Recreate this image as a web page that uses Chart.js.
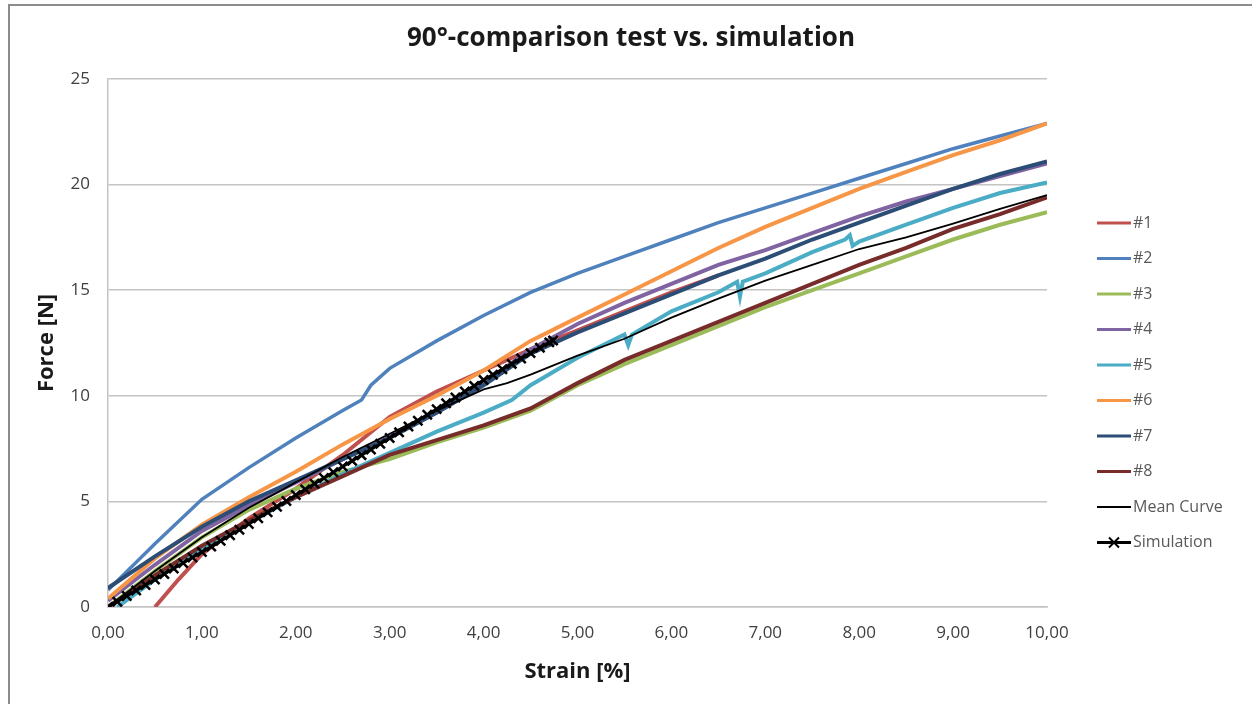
<!DOCTYPE html>
<html>
<head>
<meta charset="utf-8">
<title>90°-comparison test vs. simulation</title>
<script src="https://cdn.jsdelivr.net/npm/chart.js@4.4.1/dist/chart.umd.min.js"></script>
<style>
  html, body { margin: 0; padding: 0; background: #fff; width: 1252px; height: 704px; overflow: hidden; }
  #frame { position: absolute; left: 8px; top: 4px; width: 1242px; height: 698px;
           border-left: 2px solid #8c8c8c; border-top: 2px solid #8c8c8c; }
  canvas { display: block; }
</style>
</head>
<body>
<div id="frame"><canvas id="chart" width="1242" height="698"></canvas></div>
<script>
// ---- measured specimens: strain [%] and force [N] ----
const strainGrid = [0, 0.5, 1, 1.5, 2, 2.5, 3, 3.5, 4, 4.5, 5, 5.5, 6, 6.5, 7, 7.5, 8, 8.5, 9, 9.5, 10];

const strain1 = [0.5, 0.75, 1, 1.5, 2, 2.5, 3, 3.5, 4, 4.5, 5, 5.5, 6, 6.5];
const force1  = [0, 1.3, 2.5, 4.2, 5.6, 7.2, 9.0, 10.2, 11.2, 12.2, 13.1, 14.0, 14.9, 15.7];

const strain2 = [0, 0.5, 1, 1.5, 2, 2.5, 2.7, 2.8, 3, 3.5, 4, 4.5, 5, 5.5, 6, 6.5, 7, 7.5, 8, 8.5, 9, 9.5, 10];
const force2  = [0.8, 3.0, 5.1, 6.6, 8.0, 9.3, 9.8, 10.5, 11.3, 12.6, 13.8, 14.9, 15.8, 16.6, 17.4, 18.2, 18.9, 19.6, 20.3, 21.0, 21.7, 22.3, 22.9];

const force3 = [0, 1.7, 3.3, 4.6, 5.6, 6.4, 7.0, 7.8, 8.5, 9.3, 10.5, 11.5, 12.4, 13.3, 14.2, 15.0, 15.8, 16.6, 17.4, 18.1, 18.7];

const force4 = [0.3, 2.0, 3.6, 4.8, 5.9, 7.0, 8.1, 9.3, 10.6, 12.2, 13.4, 14.4, 15.3, 16.2, 16.9, 17.7, 18.5, 19.2, 19.8, 20.4, 21.0];

const strain5 = [0.1, 0.5, 1, 1.5, 2, 2.5, 3, 3.5, 4, 4.3, 4.5, 5, 5.5, 5.54, 5.58, 6, 6.5, 6.7, 6.73, 6.76, 7, 7.5, 7.85, 7.9, 7.93, 8, 8.5, 9, 9.5, 10];
const force5  = [0, 1.3, 2.8, 4.0, 5.2, 6.3, 7.3, 8.3, 9.2, 9.8, 10.5, 11.8, 12.9, 12.4, 12.9, 14.0, 14.9, 15.4, 14.7, 15.4, 15.8, 16.8, 17.4, 17.6, 17.1, 17.3, 18.1, 18.9, 19.6, 20.1];

const force6 = [0.4, 2.3, 3.9, 5.2, 6.4, 7.7, 8.9, 10.0, 11.2, 12.6, 13.7, 14.8, 15.9, 17.0, 18.0, 18.9, 19.8, 20.6, 21.4, 22.1, 22.9];

const force7 = [0.9, 2.4, 3.8, 5.0, 6.0, 7.0, 8.0, 9.2, 10.5, 12.0, 13.0, 13.9, 14.8, 15.7, 16.5, 17.4, 18.2, 19.0, 19.8, 20.5, 21.1];

const force8 = [0, 1.5, 2.9, 4.1, 5.2, 6.2, 7.2, 7.9, 8.6, 9.4, 10.6, 11.7, 12.6, 13.5, 14.4, 15.3, 16.2, 17.0, 17.9, 18.6, 19.4];

const strainMean = [0, 0.5, 1, 1.5, 2, 2.5, 3, 3.5, 4, 4.25, 4.5, 5, 5.5, 6, 6.5, 7, 7.5, 8, 8.5, 9, 9.5, 10];
const forceMean  = [0, 1.7, 3.3, 4.7, 5.9, 7.1, 8.2, 9.3, 10.3, 10.6, 11.0, 11.9, 12.7, 13.7, 14.6, 15.45, 16.2, 16.95, 17.5, 18.15, 18.85, 19.5];

// ---- FE simulation ----
const simStrain = [0, 0.1, 0.2, 0.3, 0.4, 0.5, 0.6, 0.7, 0.8, 0.9, 1.0, 1.1, 1.2, 1.3, 1.4, 1.5, 1.6, 1.7, 1.8, 1.9,
                   2.0, 2.1, 2.2, 2.3, 2.4, 2.5, 2.6, 2.7, 2.8, 2.9, 3.0, 3.1, 3.2, 3.3, 3.4, 3.5, 3.6, 3.7, 3.8, 3.9,
                   4.0, 4.1, 4.2, 4.3, 4.4, 4.5, 4.6, 4.7, 4.74];
const simForce  = [0, 0.25, 0.52, 0.78, 1.04, 1.30, 1.56, 1.82, 2.08, 2.34, 2.60, 2.86, 3.13, 3.40, 3.66, 3.93, 4.20, 4.48, 4.75, 5.02,
                   5.30, 5.57, 5.84, 6.11, 6.38, 6.65, 6.92, 7.19, 7.46, 7.73, 8.00, 8.27, 8.55, 8.82, 9.10, 9.37, 9.65, 9.92, 10.20, 10.47,
                   10.75, 11.00, 11.26, 11.51, 11.77, 12.02, 12.28, 12.53, 12.62];

// ---- axis ticks ----
const strainTicks = [0, 1, 2, 3, 4, 5, 6, 7, 8, 9, 10];
const forceTicks  = [0, 5, 10, 15, 20, 25];

const seriesNames = ['#1', '#2', '#3', '#4', '#5', '#6', '#7', '#8', 'Mean Curve', 'Simulation'];
const chartTitle = '90°-comparison test vs. simulation';

const toPoints = (xs, ys) => xs.map((x, i) => ({ x: x, y: ys[i] }));
const comma2 = v => Number(v).toFixed(2).replace('.', ',');

const seriesData = [
  toPoints(strain1, force1),
  toPoints(strain2, force2),
  toPoints(strainGrid, force3),
  toPoints(strainGrid, force4),
  toPoints(strain5, force5),
  toPoints(strainGrid, force6),
  toPoints(strainGrid, force7),
  toPoints(strainGrid, force8),
  toPoints(strainMean, forceMean),
  toPoints(simStrain, simForce)
];

const lineColors = ['#C0504D', '#4F81BD', '#9BBB59', '#8064A2', '#4BACC6', '#F79646', '#2C4D75', '#772C2A', '#000000', '#000000'];
const lineWidths = [4, 3.5, 4, 4, 4, 4, 4, 4, 1.8, 3];

const datasets = seriesNames.map((name, i) => ({
  label: name,
  data: seriesData[i],
  borderColor: lineColors[i],
  backgroundColor: lineColors[i],
  borderWidth: lineWidths[i],
  pointRadius: name === 'Simulation' ? 6.5 : 0,
  pointStyle: name === 'Simulation' ? 'crossRot' : 'circle',
  pointBorderWidth: 2.5,
  pointBorderColor: lineColors[i],
  tension: 0,
  fill: false,
  // later series are painted over earlier ones
  order: seriesNames.length - 1 - i
}));

// heading centred across the whole canvas (legend column included)
const headline = {
  id: 'headline',
  afterDraw(chart) {
    const { ctx, width } = chart;
    ctx.save();
    ctx.font = 'bold 26px "Open Sans"';
    ctx.fillStyle = '#1a1a1a';
    ctx.textAlign = 'center';
    ctx.textBaseline = 'middle';
    ctx.fillText(chartTitle, width / 2, 33);
    ctx.restore();
  }
};

// legend drawn at the right of the plot, one row per series
const sideLegend = {
  id: 'sideLegend',
  afterDraw(chart) {
    const { ctx, chartArea } = chart;
    const x0 = chartArea.right + 50, len = 34;
    const y0 = chartArea.top + 144, step = 35.5;
    ctx.save();
    ctx.font = '16px "Open Sans"';
    ctx.textBaseline = 'middle';
    ctx.textAlign = 'left';
    chart.data.datasets.forEach((ds, i) => {
      const y = y0 + i * step;
      ctx.strokeStyle = ds.borderColor;
      ctx.lineWidth = ds.label === 'Mean Curve' ? 2 : 3;
      ctx.beginPath();
      ctx.moveTo(x0, y);
      ctx.lineTo(x0 + len, y);
      ctx.stroke();
      if (ds.pointStyle === 'crossRot') {
        const cx = x0 + len / 2, r = 5;
        ctx.lineWidth = 2;
        ctx.beginPath();
        ctx.moveTo(cx - r, y - r); ctx.lineTo(cx + r, y + r);
        ctx.moveTo(cx - r, y + r); ctx.lineTo(cx + r, y - r);
        ctx.stroke();
      }
      ctx.fillStyle = '#595959';
      ctx.fillText(ds.label, x0 + len + 2, y);
    });
    ctx.restore();
  }
};

const gridGray = '#c4c4c4';

new Chart(document.getElementById('chart'), {
  type: 'line',
  data: { datasets: datasets },
  plugins: [headline, sideLegend],
  options: {
    responsive: false,
    animation: false,
    devicePixelRatio: 1,
    layout: { padding: { left: 0, right: 205, top: 73, bottom: 0 } },
    plugins: {
      legend: { display: false },
      tooltip: { enabled: false },
      title: { display: false }
    },
    scales: {
      x: {
        type: 'linear',
        min: 0,
        max: 10,
        afterBuildTicks: scale => { scale.ticks = strainTicks.map(v => ({ value: v })); },
        afterFit: scale => { scale.height = 97; },
        ticks: {
          callback: v => comma2(v),
          color: '#404040',
          font: { family: 'Open Sans', size: 17 },
          padding: 16,
          maxRotation: 0
        },
        grid: { display: false, drawTicks: false },
        border: { display: true, color: gridGray, width: 1.5 },
        title: {
          display: true,
          text: 'Strain [%]',
          color: '#1a1a1a',
          font: { family: 'Open Sans', size: 22, weight: 'bold' },
          padding: { top: 0, bottom: 19 }
        }
      },
      y: {
        type: 'linear',
        min: 0,
        max: 25,
        afterBuildTicks: scale => { scale.ticks = forceTicks.map(v => ({ value: v })); },
        afterFit: scale => { scale.width = 98; },
        ticks: {
          color: '#404040',
          font: { family: 'Open Sans', size: 17 },
          padding: 18
        },
        grid: { color: gridGray, lineWidth: 1.5, drawTicks: false },
        border: { display: true, color: gridGray, width: 1.5 },
        title: {
          display: true,
          text: 'Force [N]',
          color: '#1a1a1a',
          font: { family: 'Open Sans', size: 22, weight: 'bold' },
          padding: { top: 24, bottom: 0 }
        }
      }
    }
  }
});
</script>
</body>
</html>
